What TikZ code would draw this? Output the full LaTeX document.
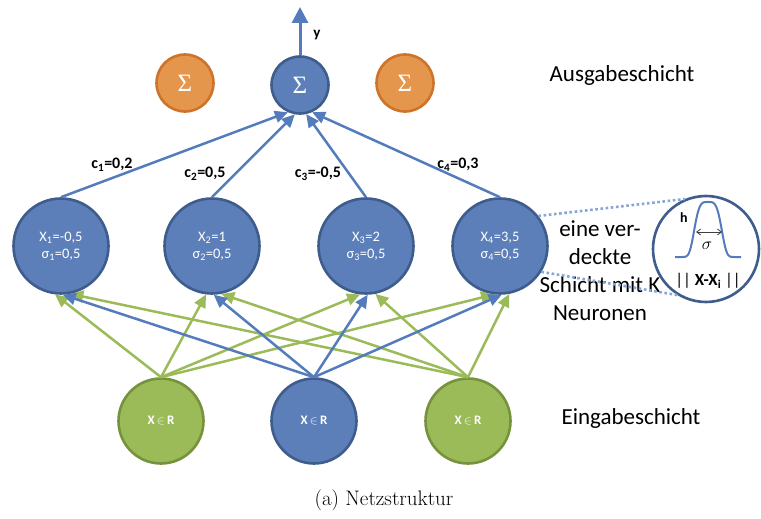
\documentclass[tikz,border=0pt]{standalone}
\usepackage{fontspec}
\usetikzlibrary{arrows.meta}
\newfontfamily\calib{Carlito}
\newfontfamily\serifgr{Liberation Serif}

\definecolor{nodeblue}{RGB}{92,126,185}
\definecolor{rimblue}{RGB}{62,92,140}
\definecolor{lineblue}{RGB}{84,124,188}
\definecolor{nodegreen}{RGB}{155,187,89}
\definecolor{rimgreen}{RGB}{118,146,60}
\definecolor{nodeorange}{RGB}{228,150,76}
\definecolor{rimorange}{RGB}{206,116,42}
\definecolor{dotblue}{RGB}{135,165,215}

\tikzset{
  neuron/.style={circle, line width=2.6pt, inner sep=0pt, text=white},
  sumblue/.style={neuron, draw=rimblue, fill=nodeblue, minimum size=57pt,
    font=\serifgr\fontsize{25}{27}\selectfont},
  sumorange/.style={neuron, draw=rimorange, fill=nodeorange, minimum size=57pt,
    font=\serifgr\fontsize{25}{27}\selectfont},
  rbf/.style={neuron, draw=rimblue, fill=nodeblue, minimum size=95pt, align=center,
    font=\calib\fontsize{14.5}{17}\selectfont},
  inblue/.style={neuron, draw=rimblue, fill=nodeblue, minimum size=85pt,
    font=\calib\bfseries\fontsize{13}{15}\selectfont},
  ingreen/.style={neuron, draw=rimgreen, fill=nodegreen, minimum size=85pt,
    font=\calib\bfseries\fontsize{13}{15}\selectfont},
  bluelink/.style={draw=lineblue, line width=2.5pt,
    -{Triangle[length=13pt,width=12pt]}},
  greenlink/.style={draw=nodegreen, line width=2.5pt,
    -{Triangle[length=13pt,width=12pt]}},
  weight/.style={font=\calib\bfseries\fontsize{16}{18}\selectfont},
  sidetext/.style={font=\calib\fontsize{23}{28}\selectfont, align=center},
  zoomline/.style={draw=dotblue, line width=2.6pt, dash pattern=on 2.6pt off 2.6pt},
}

\begin{document}
\begin{tikzpicture}[x=1pt,y=-1pt]
\useasboundingbox (0,0) rectangle (761,519);

% output layer
\node[sumorange] (o1) at (185,83) {Σ};
\node[sumblue]   (o2) at (300,85) {Σ};
\node[sumorange] (o3) at (405,83) {Σ};

% hidden RBF layer
\node[rbf] (h1) at (61,246)  {X\textsubscript{1}=-0,5\\σ\textsubscript{1}=0,5};
\node[rbf] (h2) at (212,246) {X\textsubscript{2}=1\\σ\textsubscript{2}=0,5};
\node[rbf] (h3) at (366,246) {X\textsubscript{3}=2\\σ\textsubscript{3}=0,5};
\node[rbf] (h4) at (500,246) {X\textsubscript{4}=3,5\\σ\textsubscript{4}=0,5};

% input layer
\node[ingreen] (i1) at (161,421) {X\,$\in$\,R};
\node[inblue]  (i2) at (314,421) {X\,$\in$\,R};
\node[ingreen] (i3) at (468,421) {X\,$\in$\,R};

% input -> hidden
\foreach \h in {h1,h2,h3,h4}{
  \draw[greenlink] (i1.north) -- (\h.263);
  \draw[greenlink] (i3.north) -- (\h.281);
}
\foreach \h in {h1,h2,h3,h4}{
  \draw[bluelink] (i2.north) -- (\h.272);
}

% hidden -> output with weights
\draw[bluelink] (h1.north) -- (o2.246);
\draw[bluelink] (h2.north) -- (o2.260);
\draw[bluelink] (h3.north) -- (o2.282);
\draw[bluelink] (h4.north) -- (o2.294);
\node[weight] (c1) at (112,165) {c\textsubscript{1}=0,2};
\node[weight] (c2) at (205,174) {c\textsubscript{2}=0,5};
\node[weight] (c3) at (318,174) {c\textsubscript{3}=-0,5};
\node[weight] (c4) at (458,165) {c\textsubscript{4}=0,3};

% network output
\coordinate (ytip) at (300,7);
\draw[draw=lineblue, line width=3pt, -{Triangle[length=16pt,width=16pt]}] (o2.north) -- (ytip);
\node[weight, font=\calib\bfseries\fontsize{15}{17}\selectfont] (ylab) at (317,35) {y};

% layer captions
\node[sidetext] (outcap) at (622,75) {Ausgabeschicht};
\node[sidetext] (hidcap) at (600,271) {eine ver-\\deckte\\Schicht mit K\\Neuronen};
\node[sidetext] (incap) at (631,418) {Eingabeschicht};

% magnified radial basis function
\node[circle, draw=rimblue, fill=white, line width=2.6pt, minimum size=106pt] (mag) at (706,249) {};
\draw[zoomline] (h4.38) -- (mag.113);
\draw[zoomline] (h4.-32) -- (mag.238);
\draw[draw=lineblue, line width=2pt] plot[domain=-33:33, samples=80, smooth]
  ({708+\x}, {257-55*exp(-(\x/15)^4)});
\coordinate (sl) at (696,232);
\coordinate (sr) at (722,232);
\draw[draw=black!75, line width=0.8pt, {Straight Barb[length=4pt,width=6pt]}-{Straight Barb[length=4pt,width=6pt]}] (sl) -- (sr);
\node[font=\calib\bfseries\fontsize{14}{16}\selectfont] (hlab) at (684,218) {h};
\node[font=\fontsize{16}{18}\selectfont] (siglab) at (707,246) {$\sigma$};
\node[font=\calib\fontsize{17}{19}\selectfont] (normlab) at (708,281) {|| \textbf{X-X\textsubscript{i}} ||};

% figure caption
\node[font=\fontsize{21}{24}\selectfont] (fig) at (384,500) {(a) Netzstruktur};
\end{tikzpicture}
\end{document}
